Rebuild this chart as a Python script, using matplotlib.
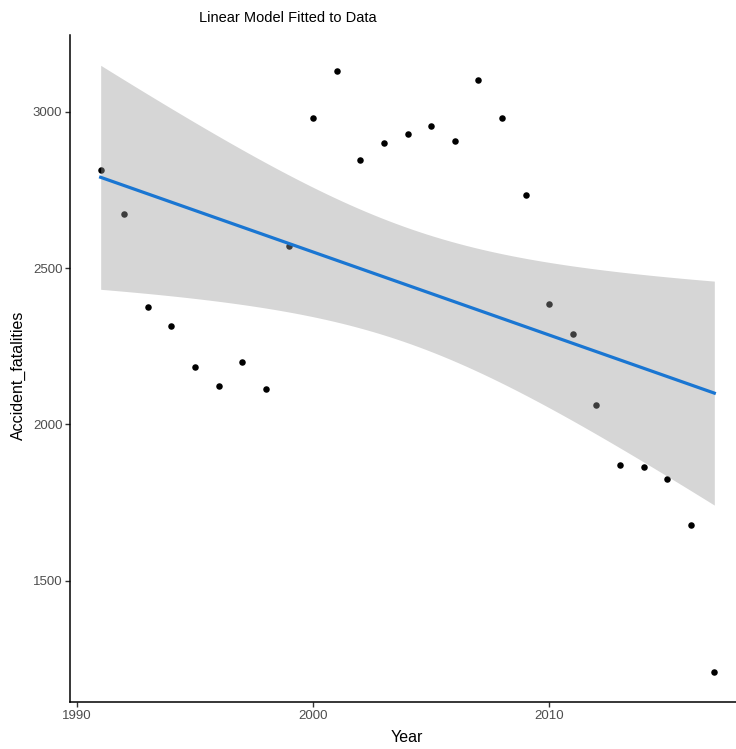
# Imports
import numpy as np
import matplotlib
matplotlib.use('Agg')
import matplotlib.pyplot as plt

# Data
years = list(range(1991, 2018))
fatalities = [2814, 2673, 2376, 2314, 2184, 2123, 2199, 2113, 2571, 2981,
              3132, 2845, 2901, 2930, 2956, 2906, 3103, 2981, 2734, 2386,
              2289, 2062, 1871, 1865, 1825, 1678, 1209]
x_ticks = [1990, 2000, 2010]
y_ticks = [1500, 2000, 2500, 3000]

# Student t quantile for the 95% band (25 degrees of freedom)
t_value = 2.0595

plt.rcParams['font.family'] = ['Liberation Sans', 'DejaVu Sans']


def linear_fit(x, y):
    # Least squares line plus confidence band, like geom_smooth(method='lm')
    x = np.asarray(x, dtype=float)
    y = np.asarray(y, dtype=float)
    slope, intercept = np.polyfit(x, y, 1)
    resid = y - (slope * x + intercept)
    s = np.sqrt(np.sum(resid ** 2) / (len(x) - 2))
    sxx = np.sum((x - x.mean()) ** 2)

    xs = np.linspace(x.min(), x.max(), 80)
    fit = slope * xs + intercept
    half = t_value * s * np.sqrt(1 / len(x) + (xs - x.mean()) ** 2 / sxx)
    return xs, fit, fit - half, fit + half


def expand(lo, hi, mult=0.05):
    pad = (hi - lo) * mult
    return lo - pad, hi + pad


xs, fit, lower, upper = linear_fit(years, fatalities)

# Figure and panel (panel runs a little past the right edge, as in the original)
fig = plt.figure(figsize=(7.36, 7.49), dpi=100)
ax = fig.add_axes([70 / 736, 47 / 749, 675 / 736, 667 / 749])

# Points first, then the translucent band on top, then the line
ax.scatter(years, fatalities, s=22, color='black', linewidths=0, zorder=2)
ax.fill_between(xs, lower, upper, color='#999999', alpha=0.4, linewidth=0, zorder=3)
ax.plot(xs, fit, color='#1a76d2', linewidth=2.3, zorder=4)

# Limits with ggplot style expansion
ax.set_xlim(*expand(min(years), max(years)))
ax.set_ylim(*expand(min(min(fatalities), lower.min()), max(max(fatalities), upper.max())))

# Ticks
ax.set_xticks(x_ticks)
ax.set_yticks(y_ticks)
ax.tick_params(direction='out', length=3.5, width=1, color='#333333',
               labelcolor='#4d4d4d', labelsize=9.5, pad=2)

# Classic theme: only left and bottom axis lines
for side in ['top', 'right']:
    ax.spines[side].set_visible(False)
for side in ['left', 'bottom']:
    ax.spines[side].set_linewidth(1.1)
    ax.spines[side].set_color('black')

# Title and axis titles
fig.text(288 / 736, 1 - 18 / 749, 'Linear Model Fitted to Data',
         ha='center', va='center', fontsize=10.5, color='black')
fig.text(407 / 736, 1 - 738 / 749, 'Year',
         ha='center', va='center', fontsize=11.5, color='black')
fig.text(18 / 736, 1 - 375 / 749, 'Accident_fatalities', rotation=90,
         ha='center', va='center', fontsize=11.5, color='black')

fig.savefig('out.png', dpi=100)
